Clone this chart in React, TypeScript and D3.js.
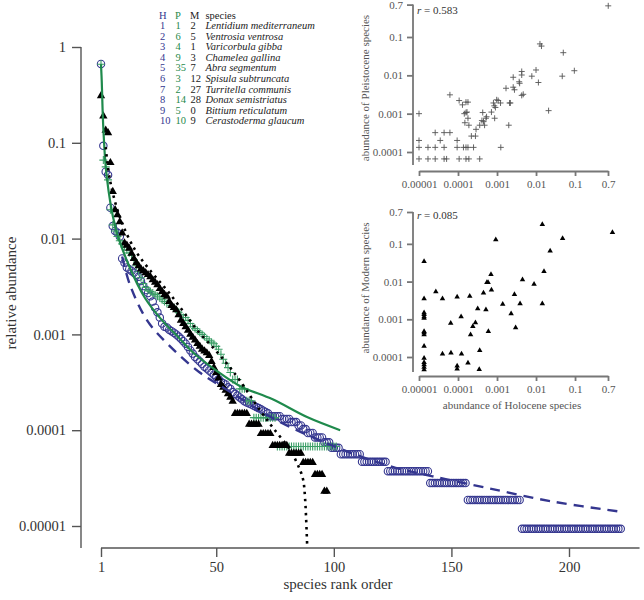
import React, { useEffect, useRef } from 'react';
import * as d3 from 'd3';

// relative abundance by rank (top ranks), then runs of equal counts for the tail
const holoceneTop = [0.665, 0.093, 0.05, 0.046, 0.021, 0.0135, 0.012, 0.0115, 0.0105, 0.0062, 0.0056, 0.005, 0.0048, 0.0046, 0.0044, 0.0042, 0.004, 0.0036, 0.0032, 0.0029,
  0.0027, 0.0025, 0.0022, 0.0019, 0.0017, 0.0015, 0.0013, 0.0012, 0.00118, 0.00112, 0.00108, 0.00104, 0.001, 0.00095, 0.0009, 0.00085, 0.0008, 0.00074, 0.00068, 0.00063,
  0.00058, 0.00055, 0.00052, 0.00049, 0.00046, 0.00044, 0.00042, 0.0004, 0.00038, 0.00036, 0.00034, 0.00032, 0.00031, 0.0003, 0.00028, 0.00027, 0.00025, 0.00024, 0.00023, 0.00022,
  0.00021, 0.0002, 0.000195, 0.00019, 0.000185, 0.00018, 0.000175, 0.00017, 0.000165, 0.00016, 0.000155, 0.00015];
const holoceneTailCounts = [15, 14, 13, 12, 11, 10, 9, 8, 7, 6, 5, 4, 3, 2, 1];
const holoceneTailSpecies = [5, 4, 3, 2, 2, 3, 4, 3, 4, 9, 11, 18, 16, 23, 43];
const holoceneTotal = 107000;

const pleistoceneTop = [0.66, 0.066, 0.056, 0.041, 0.02, 0.0139, 0.012, 0.0105, 0.0095, 0.0088, 0.0082, 0.0076, 0.0071, 0.0067, 0.006, 0.0052, 0.0045, 0.0039, 0.0034, 0.0031,
  0.0029, 0.0028, 0.0027, 0.0026, 0.0025, 0.0024, 0.0023, 0.0022, 0.0021, 0.0021, 0.002, 0.0019, 0.0018, 0.0017, 0.0016, 0.0015, 0.0015, 0.0014, 0.0013, 0.0012,
  0.00115, 0.0011, 0.00105, 0.001, 0.00095, 0.0009, 0.00087, 0.00083, 0.0008, 0.00075, 0.0007, 0.00062, 0.00055, 0.0005, 0.00045, 0.0004];
const pleistoceneTailCounts = [5, 4, 3, 2, 1];
const pleistoceneTailSpecies = [3, 3, 3, 10, 26];
const pleistoceneTotal = 14800;

const modernTop = [0.31, 0.19, 0.135, 0.127, 0.062, 0.031, 0.02, 0.0177, 0.015, 0.0114, 0.009, 0.0085, 0.0079, 0.007, 0.0062, 0.0056, 0.0052, 0.0048, 0.0046, 0.0044,
  0.0042, 0.004, 0.0037, 0.0035, 0.0033, 0.003, 0.0028, 0.0026, 0.0025, 0.0022, 0.002, 0.0019, 0.0018, 0.0016, 0.0014, 0.0013, 0.0012, 0.0011, 0.001, 0.00093,
  0.00087, 0.0008, 0.00075, 0.0007, 0.00067, 0.00064, 0.0006, 0.00052, 0.00045, 0.0004, 0.00035, 0.0003, 0.00028, 0.00026, 0.00024, 0.00022, 0.0002];
const modernTailCounts = [13, 10, 8, 6, 5, 4, 3, 2];
const modernTailSpecies = [6, 5, 5, 7, 6, 5, 4, 2];
const modernTotal = 87000;

// fitted curves
const pleistoceneFitRank = [1, 1.3, 2, 3.4, 7, 12.5, 19.7, 27, 34, 41, 50, 60, 74, 88.6, 102.7];
const pleistoceneFitValue = [0.66, 0.45, 0.14, 0.045, 0.0135, 0.0055, 0.0024, 0.0014, 0.00093, 0.00062, 0.00042, 0.00029, 0.00021, 0.000137, 0.0001];
const holoceneFitRank = [10, 13.3, 20.6, 29, 43, 55, 75, 100, 124, 142, 165, 193, 223];
const holoceneFitValue = [0.0065, 0.0033, 0.0014, 0.00081, 0.0004, 0.00026, 0.00013, 0.000068, 0.000042, 0.000033, 0.000025, 0.000018, 0.000014];
const modernFitRank = [3, 4.8, 9, 15.5, 22.7, 29, 35.5, 42, 49.5, 55, 60, 68.7, 74, 81.4, 85.7, 87, 87.8, 88.7];
const modernFitValue = [0.09, 0.041, 0.0168, 0.0076, 0.0044, 0.0029, 0.0018, 0.0011, 0.00069, 0.00048, 0.00033, 0.00016, 0.000107, 0.000062, 0.000038, 0.00003, 0.000019, 0.0000059];

// species table
const speciesNames = ['Lentidium mediterraneum', 'Ventrosia ventrosa', 'Varicorbula gibba', 'Chamelea gallina', 'Abra segmentum',
  'Spisula subtruncata', 'Turritella communis', 'Donax semistriatus', 'Bittium reticulatum', 'Cerastoderma glaucum'];
const holoceneRanks = [1, 2, 3, 4, 5, 6, 7, 8, 9, 10];
const pleistoceneRanks = [1, 6, 4, 9, 35, 3, 2, 14, 5, 10];
const modernRanks = [2, 5, 1, 3, 7, 12, 27, 28, 0, 9];

// inset 1: Pleistocene vs Holocene abundance
const insetPH_x = [0.71, 0.0126, 0.0138, 0.05, 0.096, 0.047, 0.01, 0.0115, 0.0078, 0.021, 0.0043, 0.0043, 0.0026, 0.0037, 0.0038, 0.0026, 0.0028, 0.0017, 0.0043, 0.0047,
  0.0021, 0.0022, 0.002, 0.00125, 0.00098, 0.00107, 0.00081, 0.00123, 0.00085, 0.00091, 0.00072, 0.00087, 0.00052, 0.00054, 0.00043, 0.00041, 0.00045, 0.00036, 0.00048, 0.00029,
  0.00022, 0.00028, 0.000145, 0.00016, 0.00017, 0.00018, 0.00015, 0.00019, 0.00016, 0.00018, 0.000107, 0.00013, 0.000062, 0.00001, 0.00001, 0.00001, 0.00001, 0.000017, 0.000026, 0.000044,
  0.000026, 0.000044, 0.000062, 0.000035, 0.000017, 0.000026, 0.000044, 0.000051, 0.000095, 0.000095, 0.000107, 0.00016, 0.00018, 0.00025, 0.000138, 0.00016, 0.00019, 0.00036];
const insetPH_y = [0.65, 0.066, 0.058, 0.039, 0.0132, 0.0095, 0.0138, 0.0065, 0.0095, 0.0012, 0.0126, 0.0102, 0.0089, 0.0068, 0.0062, 0.0049, 0.0042, 0.0046, 0.003, 0.0032,
  0.0019, 0.0019, 0.0005, 0.000132, 0.0023, 0.0022, 0.0019, 0.0019, 0.0016, 0.00145, 0.0011, 0.00076, 0.00076, 0.00083, 0.00107, 0.00066, 0.00062, 0.0005, 0.0005, 0.00039,
  0.00026, 0.00026, 0.001, 0.00107, 0.0011, 0.00076, 0.00058, 0.0005, 0.002, 0.002, 0.0022, 0.0017, 0.0031, 0.001, 0.0002, 0.000132, 0.000066, 0.000132, 0.000132, 0.000132,
  0.00032, 0.00032, 0.00032, 0.0002, 0.000066, 0.000066, 0.000066, 0.000066, 0.0002, 0.000132, 0.000066, 0.000132, 0.000132, 0.000132, 0.000132, 0.000066, 0.000066, 0.000066];

// inset 2: Modern vs Holocene abundance
const insetMH_x = [0.91, 0.0145, 0.048, 0.023, 0.00093, 0.016, 0.0045, 0.0089, 0.0007, 0.00055, 0.00059, 0.00072, 0.00045, 0.0002, 0.000095, 0.00004, 0.000027,
  0.0000135, 0.0000135, 0.0000135, 0.0000135, 0.0000135, 0.0000135, 0.0000135, 0.0000135, 0.0000135, 0.0000135, 0.0000135, 0.0000135, 0.0000135, 0.0000135, 0.0000135,
  0.000065, 0.00012, 0.00032, 0.00052, 0.00028, 0.00024, 0.00021, 0.0006, 0.00036, 0.00004, 0.000066, 0.000123, 0.00018, 0.000095, 0.000095, 0.00035,
  0.0014, 0.0023, 0.0028, 0.0039, 0.003, 0.0145];
const insetMH_y = [0.2, 0.33, 0.14, 0.065, 0.13, 0.0186, 0.0112, 0.0085, 0.0155, 0.0095, 0.0095, 0.006, 0.005, 0.0041, 0.0039, 0.0035, 0.0054,
  0.034, 0.0035, 0.0015, 0.00135, 0.00117, 0.00107, 0.00048, 0.00044, 0.00039, 0.000195, 0.000093, 0.000072, 0.000063, 0.000054, 0.000046,
  0.00079, 0.00117, 0.0019, 0.0018, 0.00081, 0.00065, 0.00039, 0.00048, 0.00015, 0.00012, 0.000129, 0.00012, 0.00007, 0.000058, 0.000048, 0.000047,
  0.0025, 0.0014, 0.0046, 0.0026, 0.0006, 0.0026];

const insetXTicks = [0.00001, 0.0001, 0.001, 0.01, 0.1, 0.7];
const insetXTickLabels = ['0.00001', '0.0001', '0.001', '0.01', '0.1', '0.7'];
const insetYTicks = [0.7, 0.1, 0.01, 0.001, 0.0001];
const insetYTickLabels = ['0.7', '0.1', '0.01', '0.001', '0.0001'];
const mainYTicks = [1, 0.1, 0.01, 0.001, 0.0001, 0.00001];
const mainYTickLabels = ['1', '0.1', '0.01', '0.001', '0.0001', '0.00001'];
const mainXTicks = [1, 50, 100, 150, 200];

const BLUE = '#34368f';
const GREEN = '#1f8a4c';
const GREEN_PT = '#3a9e66';
const FONT = '"Liberation Serif", "Times New Roman", serif';

function expand(top, counts, species, total) {
  const values = top.slice();
  counts.forEach((c, i) => {
    for (let k = 0; k < species[i]; k++) values.push(c / total);
  });
  return values.map((v, i) => ({ rank: i + 1, value: v }));
}

const App = () => {
  const svgRef = useRef(null);

  useEffect(() => {
    const svg = d3.select(svgRef.current);
    svg.selectAll('*').remove();
    svg.style('font-family', FONT);

    const holocene = expand(holoceneTop, holoceneTailCounts, holoceneTailSpecies, holoceneTotal);
    const pleistocene = expand(pleistoceneTop, pleistoceneTailCounts, pleistoceneTailSpecies, pleistoceneTotal);
    const modern = expand(modernTop, modernTailCounts, modernTailSpecies, modernTotal);

    // main panel
    const x = d3.scaleLinear().domain([1, 200]).range([101, 569]);
    const y = d3.scaleLog().domain([1, 0.00001]).range([47, 526]);

    const yAxis = svg.append('g')
      .attr('transform', 'translate(81,0)')
      .call(d3.axisLeft(y).tickValues(mainYTicks).tickFormat((d, i) => mainYTickLabels[i]).tickSize(9).tickSizeOuter(0).tickPadding(6));
    yAxis.select('.domain').attr('d', 'M0,47V548');
    yAxis.selectAll('line, path').attr('stroke', '#555').attr('stroke-width', 1.4);
    yAxis.selectAll('text').attr('font-size', 14.5).attr('font-family', FONT).attr('fill', '#333');

    const xAxis = svg.append('g')
      .attr('transform', 'translate(0,548)')
      .call(d3.axisBottom(x).tickValues(mainXTicks).tickFormat(d3.format('d')).tickSize(9).tickSizeOuter(0).tickPadding(5));
    xAxis.select('.domain').attr('d', `M${x(1)},0H${x(230)}`);
    xAxis.selectAll('line, path').attr('stroke', '#555').attr('stroke-width', 1.4);
    xAxis.selectAll('text').attr('font-size', 14.5).attr('font-family', FONT).attr('fill', '#333');

    svg.append('text').attr('x', 338).attr('y', 589).attr('text-anchor', 'middle')
      .attr('font-size', 15).attr('fill', '#333').text('species rank order');
    svg.append('text').attr('transform', 'translate(16,293) rotate(-90)').attr('text-anchor', 'middle')
      .attr('font-size', 15).attr('fill', '#333').text('relative abundance');

    const main = svg.append('g');

    main.selectAll('circle.h').data(holocene).enter().append('circle')
      .attr('cx', d => x(d.rank)).attr('cy', d => y(d.value)).attr('r', 3.7)
      .attr('fill', 'none').attr('stroke', BLUE).attr('stroke-width', 1.1);

    main.selectAll('path.p').data(pleistocene).enter().append('path')
      .attr('transform', d => `translate(${x(d.rank)},${y(d.value)})`)
      .attr('d', 'M-4,0H4M0,-4V4').attr('stroke', GREEN_PT).attr('stroke-width', 1.1).attr('fill', 'none');

    main.selectAll('path.m').data(modern).enter().append('path')
      .attr('transform', d => `translate(${x(d.rank)},${y(d.value)})`)
      .attr('d', d3.symbol(d3.symbolTriangle, 30)).attr('fill', '#000');

    const line = d3.line().x(d => x(d[0])).y(d => y(d[1])).curve(d3.curveCatmullRom.alpha(0.5));
    main.append('path').attr('d', line(d3.zip(pleistoceneFitRank, pleistoceneFitValue)))
      .attr('fill', 'none').attr('stroke', GREEN).attr('stroke-width', 2.2);
    main.append('path').attr('d', line(d3.zip(holoceneFitRank, holoceneFitValue)))
      .attr('fill', 'none').attr('stroke', BLUE).attr('stroke-width', 2.4).attr('stroke-dasharray', '10,7');
    main.append('path').attr('d', line(d3.zip(modernFitRank, modernFitValue)))
      .attr('fill', 'none').attr('stroke', '#000').attr('stroke-width', 2.6).attr('stroke-dasharray', '2.5,4.5');

    // species table
    const table = svg.append('g').attr('font-size', 10.5);
    const rowY = i => 29 + i * 10.6;
    table.append('text').attr('x', 159).attr('y', 18.5).attr('fill', BLUE).text('H');
    table.append('text').attr('x', 175).attr('y', 18.5).attr('fill', GREEN).text('P');
    table.append('text').attr('x', 190).attr('y', 18.5).attr('fill', '#222').text('M');
    table.append('text').attr('x', 205.5).attr('y', 18.5).attr('fill', '#222').text('species');
    speciesNames.forEach((name, i) => {
      table.append('text').attr('x', 160).attr('y', rowY(i)).attr('fill', BLUE).text(holoceneRanks[i]);
      table.append('text').attr('x', 175.5).attr('y', rowY(i)).attr('fill', GREEN).text(pleistoceneRanks[i]);
      table.append('text').attr('x', 190.5).attr('y', rowY(i)).attr('fill', '#222').text(modernRanks[i]);
      table.append('text').attr('x', 205.5).attr('y', rowY(i)).attr('fill', '#222').attr('font-style', 'italic').text(name);
    });

    // insets
    const ix = d3.scaleLog().domain([0.00001, 0.7]).range([419, 608]);

    const drawInset = (yRange, axisBottomY, yLineBottom, title, titleY, rText, rY, xs, ys, marker) => {
      const iy = d3.scaleLog().domain([0.7, 0.0001]).range(yRange);
      const g = svg.append('g');
      const ya = g.append('g').attr('transform', 'translate(413,0)')
        .call(d3.axisLeft(iy).tickValues(insetYTicks).tickFormat((d, i) => insetYTickLabels[i]).tickSize(6).tickSizeOuter(0).tickPadding(4));
      ya.select('.domain').attr('d', `M0,${iy(0.7)}V${yLineBottom}`);
      const xa = g.append('g').attr('transform', `translate(0,${axisBottomY})`)
        .call(d3.axisBottom(ix).tickValues(insetXTicks).tickFormat((d, i) => insetXTickLabels[i]).tickSize(5).tickSizeOuter(0).tickPadding(4));
      [ya, xa].forEach(a => {
        a.selectAll('line, path').attr('stroke', '#777').attr('stroke-width', 1.8);
        a.selectAll('text').attr('font-size', 11).attr('font-family', FONT).attr('fill', '#555');
      });
      g.append('text').attr('transform', `translate(369,${titleY}) rotate(-90)`).attr('text-anchor', 'middle')
        .attr('font-size', 11).attr('fill', '#555').text(title);
      const rt = g.append('text').attr('x', 417).attr('y', rY).attr('font-size', 11).attr('fill', '#333');
      rt.append('tspan').attr('font-style', 'italic').text('r');
      rt.append('tspan').text(` = ${rText}`);

      const pts = d3.zip(xs, ys);
      if (marker === 'plus') {
        g.selectAll('path.pt').data(pts).enter().append('path')
          .attr('transform', d => `translate(${ix(d[0])},${iy(d[1])})`)
          .attr('d', 'M-3,0H3M0,-3V3').attr('stroke', '#555').attr('stroke-width', 0.9);
      } else {
        g.selectAll('path.pt').data(pts).enter().append('path')
          .attr('transform', d => `translate(${ix(d[0])},${iy(d[1])})`)
          .attr('d', d3.symbol(d3.symbolTriangle, 13)).attr('fill', '#000');
      }
      return g;
    };

    drawInset([4.6, 152], 171, 165, 'abundance of Pleistocene species', 88, '0.583', 14, insetPH_x, insetPH_y, 'plus');
    drawInset([212, 357], 376, 372, 'abundance of Modern species', 288, '0.085', 219, insetMH_x, insetMH_y, 'triangle');

    svg.append('text').attr('x', 512).attr('y', 409).attr('text-anchor', 'middle')
      .attr('font-size', 11).attr('fill', '#555').text('abundance of Holocene species');
  }, []);

  return (
    <svg ref={svgRef} width={644} height={600} style={{ position: 'absolute', left: 0, top: 0, background: '#fff' }}></svg>
  );
};

export default App;
